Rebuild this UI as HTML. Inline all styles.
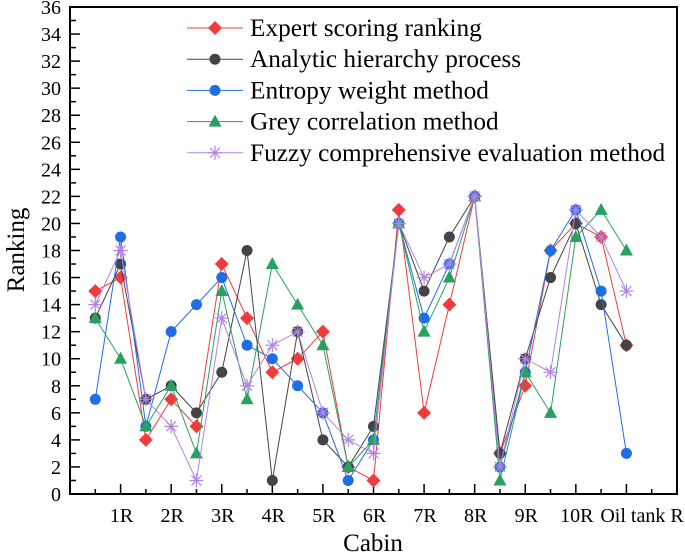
<!DOCTYPE html>
<html><head><meta charset="utf-8"><style>
body{margin:0;background:#fff}
svg{display:block;font-family:"Liberation Serif",serif}
</style></head><body>
<svg id="chart" width="685" height="555" viewBox="0 0 685 555" xmlns="http://www.w3.org/2000/svg"></svg>
<script>
const categories=["","1R","","2R","","3R","","4R","","5R","","6R","","7R","","8R","","9R","","10R","",""];
const yTicks=[0,2,4,6,8,10,12,14,16,18,20,22,24,26,28,30,32,34,36];
const expertScoring=[15,16,4,7,5,17,13,9,10,12,2,1,21,6,14,22,3,8,18,20,19,11];
const ahp=[13,17,7,8,6,9,18,1,12,4,2,5,20,15,19,22,3,10,16,20,14,11];
const entropyWeight=[7,19,5,12,14,16,11,10,8,6,1,4,20,13,17,22,2,9,18,21,15,3];
const greyCorrelation=[13,10,5,8,3,15,7,17,14,11,2,4,20,12,16,22,1,9,6,19,21,18];
const fuzzyEval=[14,18,7,5,1,13,8,11,12,6,4,3,20,16,17,22,2,10,9,21,19,15];
const seriesNames=["Expert scoring ranking","Analytic hierarchy process","Entropy weight method","Grey correlation method","Fuzzy comprehensive evaluation method"];

const svg=document.getElementById('chart');
const NS="http://www.w3.org/2000/svg";
const L=70,R=677,T=7,B=494;
const xs=i=>L+(R-L)/24*(i+1);
const ys=v=>B-(B-T)*v/36;
function mk(tag,attrs,parent){const e=document.createElementNS(NS,tag);for(const k in attrs)e.setAttribute(k,attrs[k]);(parent||svg).appendChild(e);return e;}

const axes=mk('g',{});


const frame=mk('rect',{x:L,y:T,width:R-L,height:B-T,fill:'none',stroke:'#000','stroke-width':2},axes);


for(let v=0;v<=36;v++){
  const major=v%2===0;
  mk('line',{x1:L,x2:L+(major?10:6),y1:ys(v),y2:ys(v),stroke:'#000','stroke-width':1.5},axes);
}
yTicks.forEach(v=>{
  const t=mk('text',{x:L-9,y:ys(v)+7,'text-anchor':'end','font-size':20},axes);
  t.textContent=v;
  
  
});
for(let i=0;i<23;i++){
  const major=(i%2===1);
  mk('line',{x1:xs(i),x2:xs(i),y1:B,y2:B-(major?10:5),stroke:'#000','stroke-width':1.5},axes);
}
categories.forEach((c,i)=>{
  if(!c)return;
  const t=mk('text',{x:xs(i)+1,y:B+28,'text-anchor':'middle','font-size':20},axes);
  t.textContent=c;
  
  
});
const rl=mk('text',{x:642,y:B+28,'text-anchor':'middle','font-size':20},axes);
rl.textContent="Oil tank R";


const yt=mk('text',{x:0,y:0,transform:'translate(24,250) rotate(-90)','text-anchor':'middle','font-size':25});
yt.textContent="Ranking";


const xt=mk('text',{x:373,y:551,'text-anchor':'middle','font-size':25});
xt.textContent="Cabin";



function marker(type,x,y,color,g){
  if(type==='diamond')return mk('polygon',{points:`${x},${y-7} ${x+7},${y} ${x},${y+7} ${x-7},${y}`,fill:color},g);
  if(type==='circle')return mk('circle',{cx:x,cy:y,r:5.5,fill:color},g);
  if(type==='triangle')return mk('polygon',{points:`${x},${y-7} ${x+6.5},${y+5} ${x-6.5},${y+5}`,fill:color},g);
  const s=mk('g',{stroke:color,'stroke-width':1.2},g);
  for(let a=0;a<4;a++){const ang=a*Math.PI/4;mk('line',{x1:x-7*Math.cos(ang),y1:y-7*Math.sin(ang),x2:x+7*Math.cos(ang),y2:y+7*Math.sin(ang)},s);}
  return s;
}
const series=[
 {d:expertScoring,c:'#f03c3c',m:'diamond',n:'expert-scoring'},
 {d:ahp,c:'#444444',m:'circle',n:'ahp'},
 {d:entropyWeight,c:'#1e6ee6',m:'circle',n:'entropy-weight'},
 {d:greyCorrelation,c:'#28a060',m:'triangle',n:'grey-correlation'},
 {d:fuzzyEval,c:'#b482e6',m:'star',n:'fuzzy-evaluation'}
];
series.forEach(s=>{
  const g=mk('g',{});
  
  
  const pl=mk('polyline',{points:s.d.map((v,i)=>xs(i)+','+ys(v)).join(' '),fill:'none',stroke:s.c,'stroke-width':1},g);
  
  
  s.d.forEach((v,i)=>{
    const m=marker(s.m,xs(i),ys(v),s.c,g);
    
    
  });
});
const lg=mk('g',{});


series.forEach((s,k)=>{
  const y=28+k*31.2;
  const e=mk('g',{},lg);
  
  
  mk('line',{x1:187,x2:243,y1:y,y2:y,stroke:s.c,'stroke-width':1},e);
  marker(s.m,215,y,s.c,e);
  const t=mk('text',{x:250,y:y+8,'font-size':25.3},e);
  t.textContent=seriesNames[k];
});
</script>
</body></html>
